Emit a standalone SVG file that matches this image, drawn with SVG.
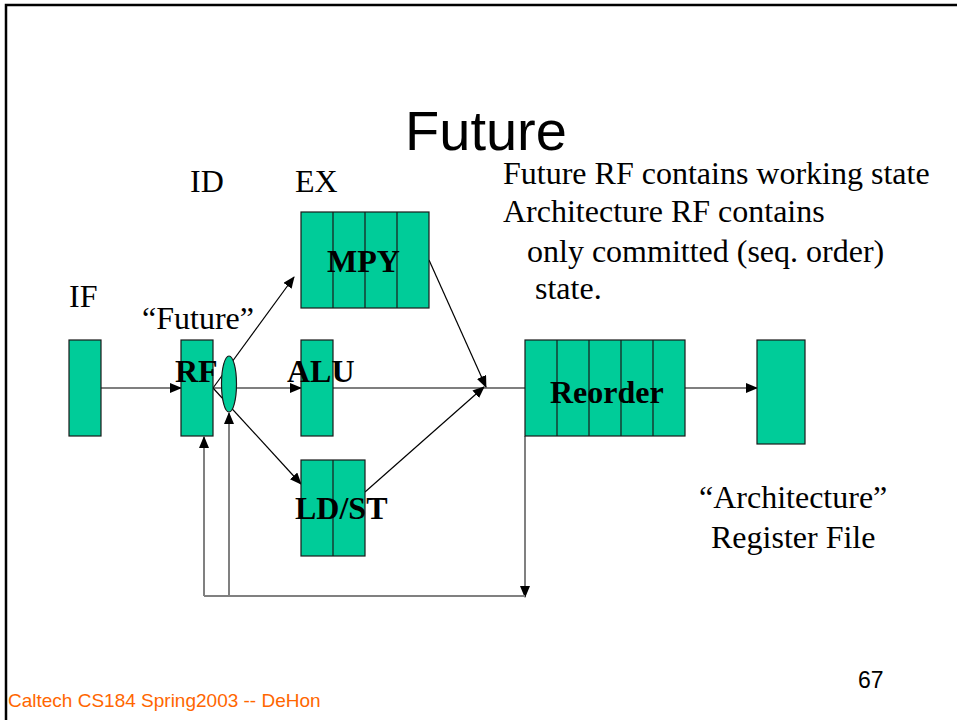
<svg xmlns="http://www.w3.org/2000/svg" width="957" height="720" viewBox="0 0 957 720">
<defs>
<style>
.box{fill:#00CC99;stroke:#1a1a1a;stroke-width:1.2}
.cell{stroke:#1a1a1a;stroke-width:1.2;fill:none}
.t{font-family:"Liberation Serif","Times New Roman",serif;font-size:32px;fill:#000}
.b{font-family:"Liberation Serif","Times New Roman",serif;font-size:32px;font-weight:bold;fill:#000}
.a{stroke:#000;stroke-width:1.2;fill:none}
.g{stroke:#808080;stroke-width:2;fill:none}
</style>
<marker id="ah" markerWidth="12" markerHeight="10" refX="11" refY="5" orient="auto" markerUnits="userSpaceOnUse">
<path d="M0,0 L12,5 L0,10 Z" fill="#000"/>
</marker>
</defs>
<rect width="957" height="720" fill="#fff"/>
<path d="M6,720 V5 H957" fill="none" stroke="#000" stroke-width="2.5"/>
<text x="486" y="150" text-anchor="middle" font-family="Liberation Sans, Arial, sans-serif" font-size="56">Future</text>

<g id="connectors">
<line class="a" x1="101" y1="388" x2="181" y2="388" marker-end="url(#ah)"/>
<line class="a" x1="213" y1="388" x2="301" y2="388" marker-end="url(#ah)"/>
<line class="a" x1="213" y1="388" x2="294" y2="277" marker-end="url(#ah)"/>
<line class="a" x1="213" y1="388" x2="301" y2="484" marker-end="url(#ah)"/>
<line class="a" x1="333" y1="388" x2="525" y2="388"/>
<line class="a" x1="429" y1="260" x2="486" y2="387" marker-end="url(#ah)"/>
<line class="a" x1="365" y1="492" x2="484" y2="387" marker-end="url(#ah)"/>
<line class="a" x1="685" y1="388" x2="757" y2="388" marker-end="url(#ah)"/>
<line class="g" x1="525" y1="436" x2="525" y2="597" marker-end="url(#ah)"/>
<line class="g" x1="204" y1="596" x2="525" y2="596"/>
<line class="g" x1="204" y1="596" x2="204" y2="437" marker-end="url(#ah)"/>
<line class="g" x1="229" y1="596" x2="229" y2="413" marker-end="url(#ah)"/>
</g>

<g id="if"><rect class="box" x="69" y="340" width="32" height="96"/></g>
<g id="rf"><rect class="box" x="181" y="340" width="32" height="96"/><text class="b" x="175" y="382">RF</text></g>
<g id="mux"><ellipse class="box" cx="229" cy="384" rx="7.5" ry="28"/></g>
<g id="alu"><rect class="box" x="301" y="340" width="32" height="96"/><text class="b" x="287" y="382">ALU</text></g>
<g id="mpy"><rect class="box" x="301" y="212" width="128" height="96"/><path class="cell" d="M333,212V308M365,212V308M397,212V308"/><text class="b" x="327" y="272">MPY</text></g>
<g id="ldst"><rect class="box" x="301" y="460" width="64" height="96"/><path class="cell" d="M333,460V556"/><text class="b" x="295" y="519">LD/ST</text></g>
<g id="reorder"><rect class="box" x="525" y="340" width="160" height="96"/><path class="cell" d="M557,340V436M589,340V436M621,340V436M653,340V436"/><text class="b" x="550" y="403">Reorder</text></g>
<g id="archrf"><rect class="box" x="757" y="340" width="48" height="104"/></g>

<text class="t" x="190" y="192">ID</text>
<text class="t" x="295" y="192">EX</text>
<text class="t" x="69" y="307">IF</text>
<text class="t" x="142" y="329">“Future”</text>
<text class="t" x="503" y="184">Future RF contains working state</text>
<text class="t" x="503" y="222">Architecture RF contains</text>
<text class="t" x="527" y="262">only committed (seq. order)</text>
<text class="t" x="535" y="299">state.</text>
<text class="t" x="699" y="508">“Architecture”</text>
<text class="t" x="711" y="548">Register File</text>
<text x="858" y="688" font-family="Liberation Sans, Arial, sans-serif" font-size="23" fill="#000">67</text>
<text x="8" y="707" font-family="Liberation Sans, Arial, sans-serif" font-size="19" fill="#FF6600">Caltech CS184 Spring2003 -- DeHon</text>
</svg>
